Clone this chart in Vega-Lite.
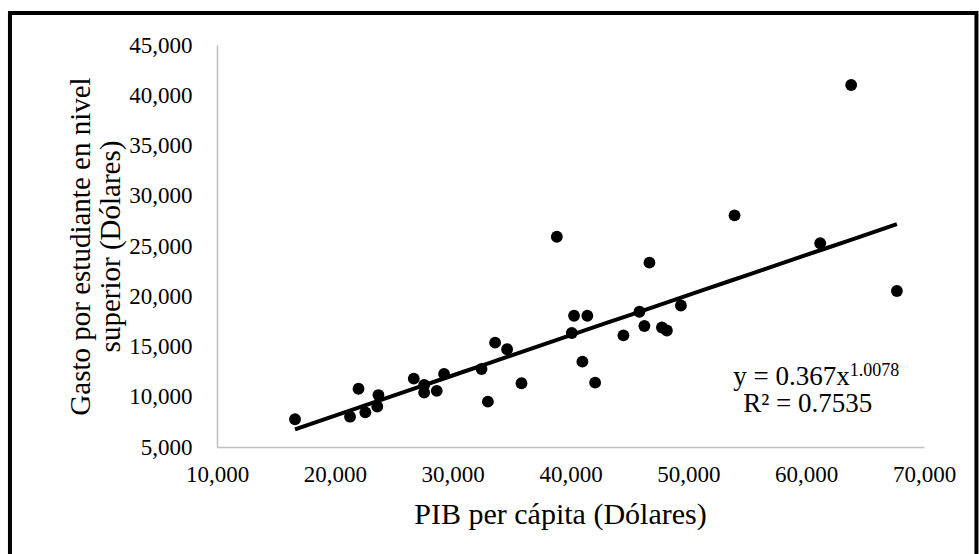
{
  "$schema": "https://vega.github.io/schema/vega-lite/v6.json",
  "width": 707,
  "height": 402,
  "autosize": {"type": "none"},
  "padding": {"left": 217, "top": 45, "right": 55, "bottom": 107},
  "background": "white",
  "config": {
    "view": {"stroke": null},
    "font": "Liberation Serif",
    "axis": {
      "domainColor": "#bfbfbf",
      "domainWidth": 1.5,
      "ticks": false,
      "grid": false,
      "labelColor": "#000000",
      "titleColor": "#000000",
      "labelFont": "Liberation Serif",
      "titleFont": "Liberation Serif",
      "labelFontSize": 23,
      "titleFontSize": 29,
      "titleFontWeight": "normal"
    }
  },
  "datasets": {
    "pts": [
      {"pib": 16620, "gasto": 7760},
      {"pib": 21290, "gasto": 8015},
      {"pib": 22010, "gasto": 10800},
      {"pib": 22590, "gasto": 8450},
      {"pib": 23600, "gasto": 9030},
      {"pib": 23700, "gasto": 10170},
      {"pib": 26700, "gasto": 11800},
      {"pib": 27580, "gasto": 11170},
      {"pib": 27580, "gasto": 10420},
      {"pib": 28650, "gasto": 10590},
      {"pib": 29270, "gasto": 12260},
      {"pib": 32450, "gasto": 12760},
      {"pib": 32990, "gasto": 9510},
      {"pib": 33600, "gasto": 15380},
      {"pib": 34620, "gasto": 14730},
      {"pib": 35840, "gasto": 11340},
      {"pib": 38840, "gasto": 25920},
      {"pib": 40110, "gasto": 16340},
      {"pib": 40300, "gasto": 18060},
      {"pib": 41010, "gasto": 13490},
      {"pib": 41430, "gasto": 18060},
      {"pib": 42090, "gasto": 11400},
      {"pib": 44490, "gasto": 16110},
      {"pib": 45850, "gasto": 18460},
      {"pib": 46270, "gasto": 17040},
      {"pib": 46700, "gasto": 23340},
      {"pib": 47760, "gasto": 16890},
      {"pib": 48180, "gasto": 16590},
      {"pib": 49370, "gasto": 19080},
      {"pib": 53920, "gasto": 28050},
      {"pib": 61190, "gasto": 25270},
      {"pib": 63820, "gasto": 41020},
      {"pib": 67700, "gasto": 20520}
    ],
    "eq": [
      {"pib": 63690, "gasto": 11170, "t": "y = 0.367x"}
    ],
    "sup": [
      {"pib": 63690, "gasto": 12100, "t": "1.0078"}
    ],
    "r2": [
      {"pib": 60130, "gasto": 8480, "t": "R² = 0.7535"}
    ]
  },
  "layer": [
    {
      "data": {"values": [{}]},
      "mark": {"type": "rect", "fill": null, "stroke": "#000000", "strokeWidth": 4, "clip": false},
      "encoding": {
        "x": {"datum": -7570, "type": "quantitative", "scale": {"domain": [10000, 70000], "nice": false}},
        "x2": {"datum": 74450},
        "y": {"datum": 48180, "type": "quantitative", "scale": {"domain": [5000, 45000], "nice": false}},
        "y2": {"datum": -8000}
      }
    },
    {
      "data": {"name": "pts"},
      "mark": {"type": "point", "filled": true, "color": "#000000", "opacity": 1, "size": 140},
      "encoding": {
        "x": {
          "field": "pib", "type": "quantitative",
          "scale": {"domain": [10000, 70000], "nice": false},
          "axis": {
            "title": "PIB per cápita (Dólares)",
            "values": [10000, 20000, 30000, 40000, 50000, 60000, 70000],
            "format": ",.0f",
            "labelFont": "Liberation Serif",
            "titleFont": "Liberation Serif",
            "titleFontSize": 30,
            "labelFlush": false,
            "labelPadding": 16,
            "titlePadding": 13,
            "titleX": 343
          }
        },
        "y": {
          "field": "gasto", "type": "quantitative",
          "scale": {"domain": [5000, 45000], "nice": false},
          "axis": {
            "title": ["Gasto por estudiante en nivel", "superior (Dólares)"],
            "values": [5000, 10000, 15000, 20000, 25000, 30000, 35000, 40000, 45000],
            "format": ",.0f",
            "labelFont": "Liberation Serif",
            "titleFont": "Liberation Serif",
            "labelPadding": 25,
            "titlePadding": 3,
            "titleLineHeight": 30
          }
        }
      }
    },
    {
      "data": {"name": "pts"},
      "transform": [
        {"regression": "gasto", "on": "pib", "method": "pow", "extent": [16620, 67700]}
      ],
      "mark": {"type": "line", "color": "#000000", "strokeWidth": 4},
      "encoding": {
        "x": {"field": "pib", "type": "quantitative"},
        "y": {"field": "gasto", "type": "quantitative"}
      }
    },
    {
      "data": {"name": "eq"},
      "mark": {"type": "text", "align": "right", "baseline": "alphabetic", "fontSize": 27, "font": "Liberation Serif", "color": "#000000"},
      "encoding": {
        "x": {"field": "pib", "type": "quantitative"},
        "y": {"field": "gasto", "type": "quantitative"},
        "text": {"field": "t"}
      }
    },
    {
      "data": {"name": "sup"},
      "mark": {"type": "text", "align": "left", "baseline": "alphabetic", "fontSize": 18, "font": "Liberation Serif", "color": "#000000"},
      "encoding": {
        "x": {"field": "pib", "type": "quantitative"},
        "y": {"field": "gasto", "type": "quantitative"},
        "text": {"field": "t"}
      }
    },
    {
      "data": {"name": "r2"},
      "mark": {"type": "text", "align": "center", "baseline": "alphabetic", "fontSize": 27, "font": "Liberation Serif", "color": "#000000"},
      "encoding": {
        "x": {"field": "pib", "type": "quantitative"},
        "y": {"field": "gasto", "type": "quantitative"},
        "text": {"field": "t"}
      }
    }
  ]
}
